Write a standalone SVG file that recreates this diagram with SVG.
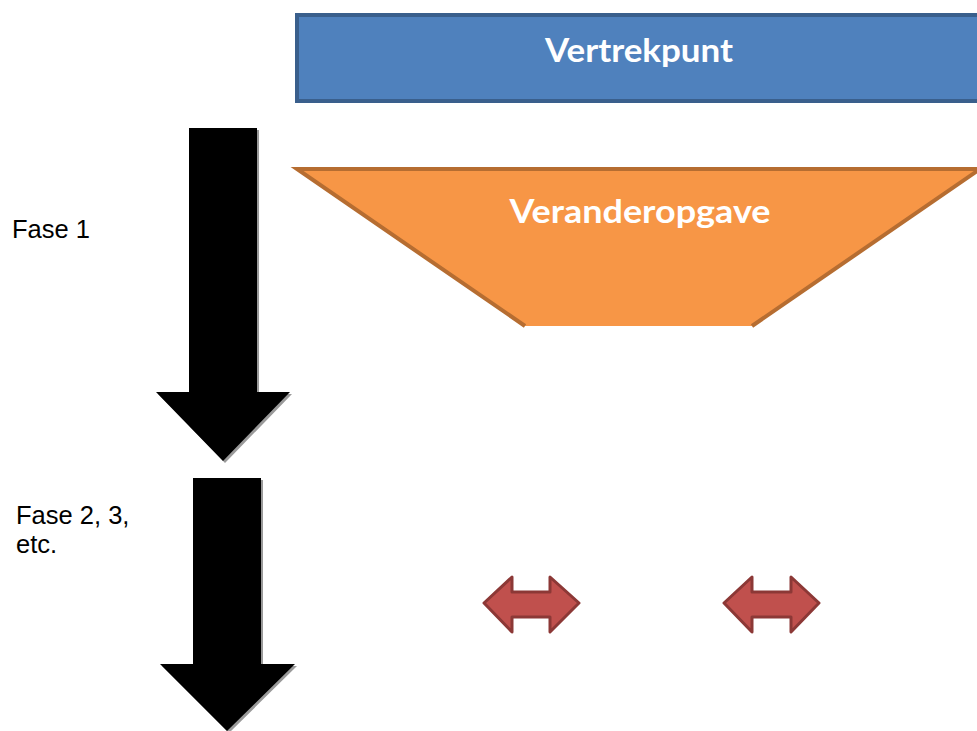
<svg xmlns="http://www.w3.org/2000/svg" width="977" height="731" viewBox="0 0 977 731">
<style>
.lbl{font-family:"Liberation Sans",Arial,sans-serif;font-size:25.5px;fill:#000}
.ttl{font-family:Lato,"Open Sans",sans-serif;font-weight:bold;fill:#fff;text-anchor:middle}
.dbl{fill:#c0504d;stroke:#8c3836;stroke-width:3;stroke-linejoin:round}
.blk{fill:#000}
.shadow{fill:#9a9a9a}
</style>
<rect width="977" height="731" fill="#fff"/>
<g id="vertrekpunt">
<rect x="297" y="15" width="690" height="86" fill="#4f81bd" stroke="#3a5f8c" stroke-width="4"/>
<text class="ttl" x="639" y="62" font-size="33" textLength="188" lengthAdjust="spacingAndGlyphs">Vertrekpunt</text>
</g>
<g id="veranderopgave">
<polygon points="297,169 980,169 752,326 525,326" fill="#f79646"/>
<polyline points="525,326 297,169 980,169 752,326" fill="none" stroke="#b66d31" stroke-width="4" stroke-linejoin="miter"/>
<text class="ttl" x="640" y="222.5" font-size="33" textLength="261" lengthAdjust="spacingAndGlyphs">Veranderopgave</text>
</g>
<g id="fase1-arrow">
<polygon class="shadow" points="191,130 259,130 259,394 292,394 225,463 158,394 191,394"/>
<polygon class="blk" points="189,128 257,128 257,392 290,392 223,461 156,392 189,392"/>
</g>
<g id="fase2-arrow">
<polygon class="shadow" points="195,480 263,480 263,666 297,666 229,733 162,666 195,666"/>
<polygon class="blk" points="193,478 261,478 261,664 295,664 227,731 160,664 193,664"/>
</g>
<g id="fase1-label">
<text class="lbl" x="12" y="238">Fase 1</text>
</g>
<g id="fase2-label">
<text class="lbl" x="16" y="523.5">Fase 2, 3,</text>
<text class="lbl" x="16" y="553">etc.</text>
</g>
<g id="connectors">
<polygon class="dbl" points="484,603 512,577 512,592 550,592 550,577 579,603 550,632 550,617 512,617 512,632"/>
<polygon class="dbl" points="724,603 752,577 752,592 791,592 791,577 819,603 791,632 791,617 752,617 752,632"/>
</g>
</svg>
